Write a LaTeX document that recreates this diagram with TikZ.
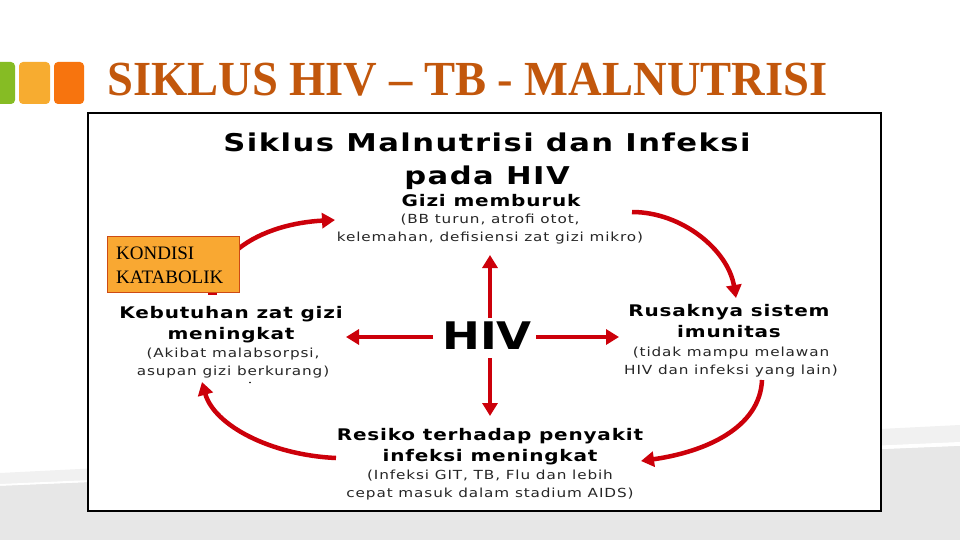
\documentclass[tikz,border=0pt]{standalone}
\usepackage{fontspec}
\setmainfont{Liberation Serif}
\newfontfamily\titlefont[FakeStretch=0.95]{Liberation Serif}
\newfontfamily\dtfont[FakeStretch=1.25,LetterSpace=6]{DejaVu Sans}
\newfontfamily\headfont[FakeStretch=1.25,LetterSpace=5]{DejaVu Sans}
\newfontfamily\subfont[FakeStretch=1.22,LetterSpace=7]{DejaVu Sans}
\newfontfamily\hivfont[FakeStretch=1.19]{DejaVu Sans}
\usetikzlibrary{arrows.meta}
\definecolor{titlecol}{RGB}{194,87,12}
\definecolor{sqgreen}{RGB}{134,188,36}
\definecolor{sqyellow}{RGB}{247,172,48}
\definecolor{sqorange}{RGB}{247,116,14}
\definecolor{arrred}{RGB}{204,0,10}
\definecolor{boxfill}{RGB}{249,168,50}
\definecolor{boxline}{RGB}{205,75,20}
\definecolor{bandlight}{RGB}{241,241,241}
\definecolor{bandgray}{RGB}{231,231,231}
\tikzset{
  sq/.style={rounded corners=4pt},
  arr/.style={draw=arrred, line width=4.5pt, -{Triangle[width=15pt,length=13pt]}},
  head/.style={font=\headfont\bfseries\fontsize{16}{21}\selectfont, align=center, inner sep=0pt},
  sub/.style={font=\subfont\fontsize{12.5}{17.5}\selectfont, align=center, inner sep=0pt, text=black!85},
}
\begin{document}
\begin{tikzpicture}[x=1pt,y=-1pt]
\useasboundingbox (0,0) rectangle (960,540);
\clip (0,0) rectangle (960,540);
\fill[white] (0,0) rectangle (960,540);
% bottom bands
\fill[bandlight] (0,473) -- (960,425) -- (960,540) -- (0,540) -- cycle;
\fill[white] (0,484) -- (960,442) -- (960,446) -- (0,486) -- cycle;
\fill[bandgray] (0,486) -- (960,446) -- (960,540) -- (0,540) -- cycle;
% squares
\fill[sqgreen, sq] (-15,62) rectangle (15,104);
\fill[sqyellow, sq] (19,62) rectangle (50,104);
\fill[sqorange, sq] (54,62) rectangle (84,104);
% title
\node[anchor=base west, inner sep=0pt, text=titlecol, font=\titlefont\bfseries\fontsize{49}{60}\selectfont] (title) at (107,96) {SIKLUS HIV – TB - MALNUTRISI};
% image frame
\draw[line width=1.3pt, fill=white] (88,113) rectangle (881,511);
% diagram title
\node[font=\dtfont\bfseries\fontsize{24.5}{33}\selectfont, align=center, inner sep=0pt] (dtitle) at (487,161.5) {Siklus Malnutrisi dan Infeksi\\pada HIV};
% HIV
\node[font=\hivfont\bfseries\fontsize{38}{40}\selectfont, inner sep=0pt] (hiv) at (487,336) {HIV};
% blocks
\node[head] (gizi) at (491,201) {Gizi memburuk};
\node[sub] (gizisub) at (490,229) {(BB turun, atrofi otot,\\kelemahan, defisiensi zat gizi mikro)};
\node[head] (kebutuhan) at (231,325) {Kebutuhan zat gizi\\meningkat};
\node[sub] (kebsub) at (233,363) {(Akibat malabsorpsi,\\asupan gizi berkurang)};
\node[head] (rusak) at (729,321) {Rusaknya sistem\\imunitas};
\node[sub] (rusaksub) at (731,362) {(tidak mampu melawan\\HIV dan infeksi yang lain)};
\node[head] (resiko) at (490,447) {Resiko terhadap penyakit\\infeksi meningkat};
\node[sub] (resikosub) at (490,485) {(Infeksi GIT, TB, Flu dan lebih\\cepat masuk dalam stadium AIDS)};
% straight arrows
\coordinate (hup) at (490,318);
\coordinate (hupend) at (490,255);
\coordinate (hdown) at (490,358);
\coordinate (hdownend) at (490,416);
\coordinate (hleft) at (433,337);
\coordinate (hleftend) at (346,337);
\coordinate (hright) at (536,337);
\coordinate (hrightend) at (619,337);
\draw[arr] (hup) -- (hupend);
\draw[arr] (hdown) -- (hdownend);
\draw[arr] (hleft) -- (hleftend);
\draw[arr] (hright) -- (hrightend);
% curved arrows
\coordinate (c1s) at (238,249);
\coordinate (c1e) at (335,220);
\coordinate (c2s) at (632,212);
\coordinate (c2e) at (736,298);
\coordinate (c3s) at (762,380);
\coordinate (c3e) at (641,461);
\coordinate (c4s) at (336,458);
\coordinate (c4e) at (202,382);
\draw[arr] (c1s) .. controls (262,230) and (295,222) .. (c1e);
\draw[arr] (c2s) .. controls (682,212) and (728,250) .. (c2e);
\draw[arr] (c3s) .. controls (760,428) and (705,452) .. (c3e);
\draw[arr] (c4s) .. controls (270,455) and (214,425) .. (c4e);
% kondisi katabolik box
\fill[arrred] (208,291) rectangle (217,295);
\node[draw=boxline, fill=boxfill, line width=0.8pt, minimum width=132pt, minimum height=56pt, inner sep=0pt] (kondisi) at (173,264) {};
\node[anchor=base west, inner sep=0pt, font=\fontsize{19}{24}\selectfont] (kondisitxt) at (116,259) {KONDISI};
\node[anchor=base west, inner sep=0pt, font=\fontsize{19}{24}\selectfont] (katabolik) at (116,283) {KATABOLIK};
\fill[black] (250,382.5) circle (0.9pt);
\end{tikzpicture}
\end{document}
